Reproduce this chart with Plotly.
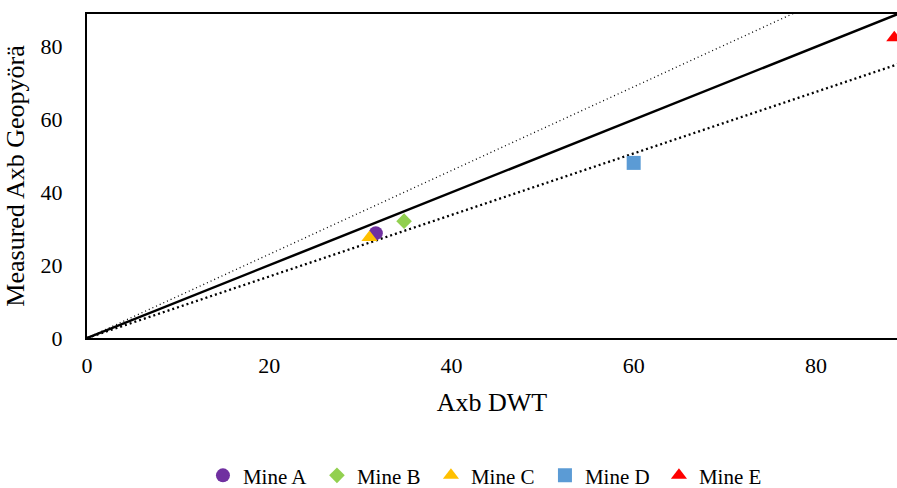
import plotly.graph_objects as go

names = ["Mine A", "Mine B", "Mine C", "Mine D", "Mine E"]
x_dwt = [31.7, 34.8, 31.0, 60.0, 88.6]
y_geo = [28.8, 32.1, 27.6, 48.1, 82.5]
colors = ["#7030A0", "#92D050", "#FFC000", "#5B9BD5", "#FF0000"]
symbols = ["circle", "diamond", "triangle-up", "square", "triangle-up"]
sizes = [14, 12, 14, 14, 14]

line_x = [0, 100]
slope_one = [0, 100]
slope_upper = [0, 115]
slope_lower = [0, 84.5]

x_ticks = [0, 20, 40, 60, 80]
y_ticks = [0, 20, 40, 60, 80]

font = "Liberation Serif, Times New Roman, serif"

fig = go.Figure()
fig.add_trace(go.Scatter(x=line_x, y=slope_upper, mode="lines", showlegend=False,
                         line=dict(color="black", width=1.3, dash="1px,3px"), hoverinfo="skip"))
fig.add_trace(go.Scatter(x=line_x, y=slope_one, mode="lines", showlegend=False,
                         line=dict(color="black", width=2.5), hoverinfo="skip"))
fig.add_trace(go.Scatter(x=line_x, y=slope_lower, mode="lines", showlegend=False,
                         line=dict(color="black", width=2.3, dash="2px,3px"), hoverinfo="skip"))

for n, xv, yv, c, s, sz in zip(names, x_dwt, y_geo, colors, symbols, sizes):
    fig.add_trace(go.Scatter(x=[xv], y=[yv], mode="markers", name=n, cliponaxis=True,
                             marker=dict(color=c, symbol=s, size=sz)))

fig.update_layout(
    width=897, height=488,
    margin=dict(l=87, r=0, t=14, b=150, autoexpand=False),
    paper_bgcolor="white", plot_bgcolor="white",
    font=dict(family=font, size=22, color="black"),
    legend=dict(orientation="h", x=0.495, xanchor="center", y=-0.425, yanchor="middle",
                font=dict(size=21), itemwidth=30, tracegroupgap=0,
                entrywidth=69, entrywidthmode="pixels", borderwidth=0),
    xaxis=dict(range=[0, 88.9], tickvals=x_ticks, showgrid=False, zeroline=False,
               showline=True, linecolor="black", linewidth=2, mirror=True,
               ticks="", ticklen=0, automargin=False, ticklabelstandoff=7,
               title=dict(text="Axb DWT", font=dict(size=26), standoff=15),
               tickfont=dict(size=22)),
    yaxis=dict(range=[0, 89], tickvals=y_ticks, showgrid=False, zeroline=False,
               showline=True, linecolor="black", linewidth=2, mirror=True,
               ticks="", ticklen=0, automargin=False, ticklabelstandoff=18,
               title=dict(text="Measured Axb Geopyörä", font=dict(size=26), standoff=8),
               tickfont=dict(size=22)),
)

fig.write_html("out.html", config={"displayModeBar": False},
               post_script="document.body.style.margin='0';document.body.style.overflow='hidden';")
